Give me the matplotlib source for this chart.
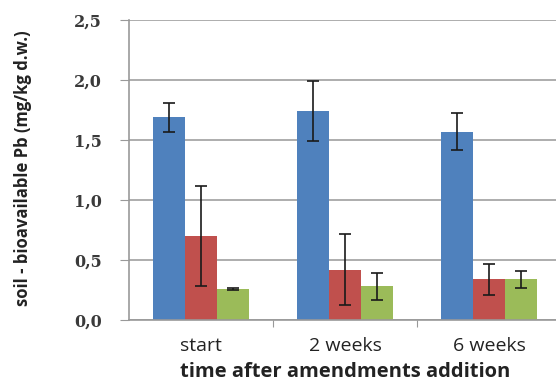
import matplotlib.pyplot as plt
import numpy as np

# data
categories = ['start', '2 weeks', '6 weeks']
blue_vals = [1.69, 1.74, 1.57]
blue_err = [0.12, 0.25, 0.155]
red_vals = [0.70, 0.42, 0.34]
red_err = [0.415, 0.295, 0.13]
green_vals = [0.26, 0.28, 0.34]
green_err = [0.01, 0.11, 0.07]

colors = ['#4F81BD', '#C0504D', '#9BBB59']

plt.rcParams['font.family'] = ['Open Sans', 'DejaVu Sans']

fig = plt.figure(figsize=(5.56, 3.83), dpi=100)
ax = fig.add_axes([129 / 556, 63 / 383, 432 / 556, 300 / 383])

x = np.arange(len(categories))
w = 0.222
series = [(blue_vals, blue_err), (red_vals, red_err), (green_vals, green_err)]
for i, (vals, err) in enumerate(series):
    ax.bar(x + (i - 1) * w, vals, w, color=colors[i], zorder=2)
    ax.errorbar(x + (i - 1) * w, vals, yerr=err, fmt='none', ecolor='#1a1a1a',
                elinewidth=1.2, capsize=4, capthick=1.2, zorder=3)

ax.set_xlim(-0.5, 2.5)
ax.set_ylim(0, 2.5)
ax.set_yticks(np.arange(0, 2.51, 0.5))
ax.set_yticklabels([f'{v:.1f}'.replace('.', ',') for v in np.arange(0, 2.51, 0.5)],
                   fontsize=11.5, fontweight='bold', color='#3a3a3a',
                   family='DejaVu Serif')
ax.yaxis.grid(True, color='#a0a0a0', linewidth=1.2, zorder=0)
ax.set_axisbelow(True)

ax.set_xticks([0.5, 1.5])
ax.set_xticklabels([])
ax.set_xticks(x, minor=True)
ax.set_xticklabels(categories, minor=True, fontsize=14, color='#222222')
ax.tick_params(axis='x', which='minor', length=0, pad=12)
ax.tick_params(axis='x', which='major', length=5, color='#999999', direction='out')
ax.tick_params(axis='y', length=6.5, color='#999999', direction='out', pad=13)

for s in ['top', 'right']:
    ax.spines[s].set_visible(False)
for s in ['left', 'bottom']:
    ax.spines[s].set_color('#999999')
    ax.spines[s].set_linewidth(1.2)

fig.text(345 / 556, (383 - 372) / 383, 'time after amendments addition',
         fontsize=14.5, fontweight='bold', color='#222222', ha='center', va='center')
fig.text(23 / 556, (383 - 168) / 383, 'soil - bioavailable Pb (mg/kg d.w.)',
         fontsize=12, fontweight='bold', color='#222222', rotation=90,
         ha='center', va='center')

fig.savefig('out.png', dpi=100)
